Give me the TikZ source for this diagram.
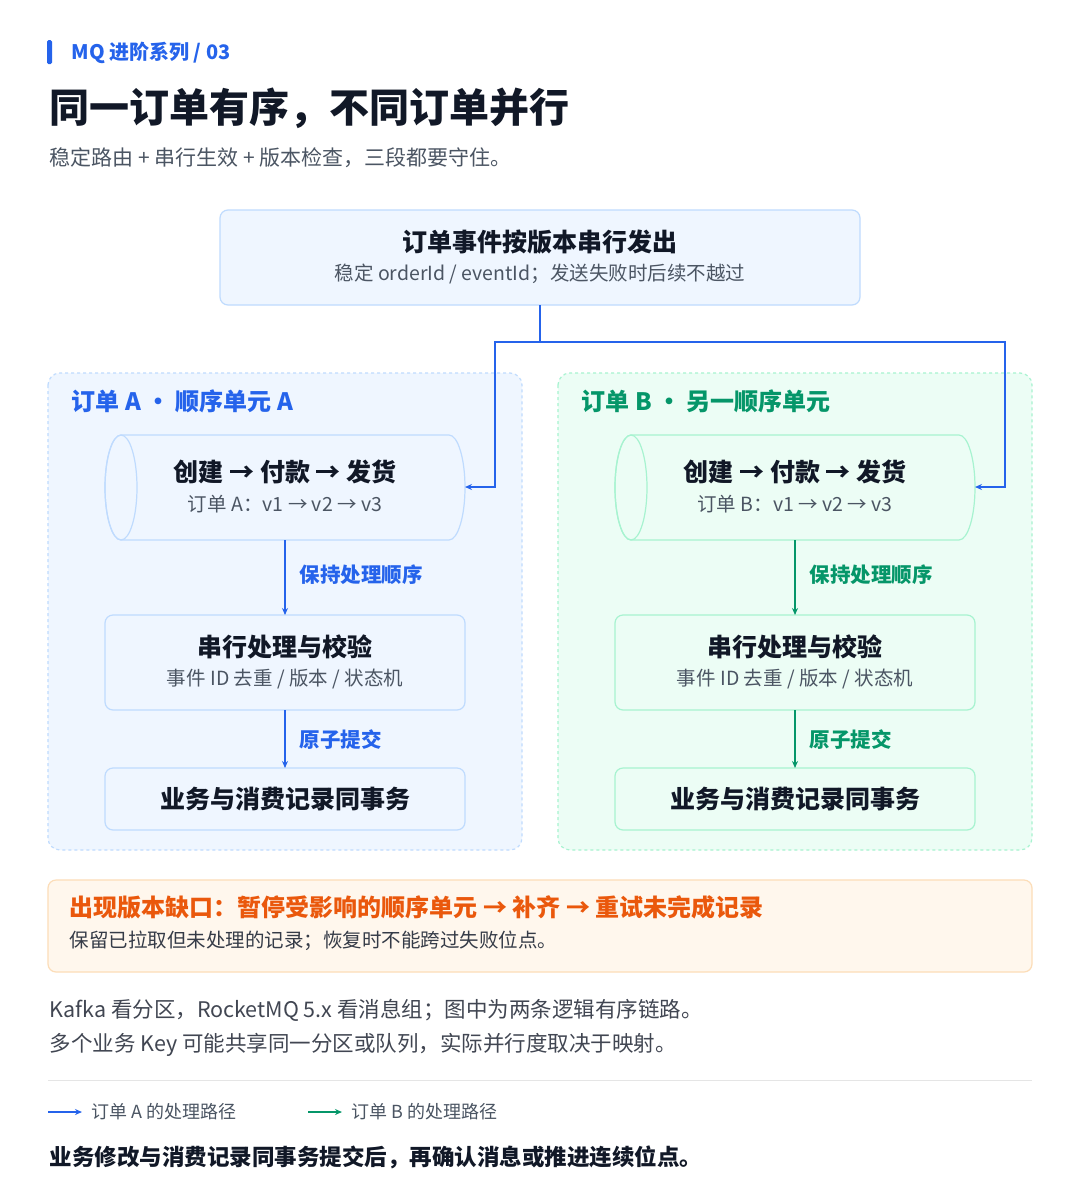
\documentclass[tikz,border=0pt]{standalone}
\usepackage{fontspec}
\setmainfont{Noto Sans CJK SC}
\usetikzlibrary{arrows.meta}
\definecolor{bl}{HTML}{2563EB}
\definecolor{gr}{HTML}{059669}
\definecolor{blbg}{HTML}{EFF6FF}
\definecolor{blbd}{HTML}{BFDBFE}
\definecolor{grbg}{HTML}{ECFDF5}
\definecolor{grbd}{HTML}{A7F3D0}
\definecolor{orf}{HTML}{FFF7ED}
\definecolor{orb}{HTML}{FCDDB8}
\definecolor{ort}{HTML}{EA580C}
\definecolor{tx}{HTML}{111827}
\definecolor{sub}{HTML}{4B5563}
\begin{document}
\begin{tikzpicture}[x=1pt,y=-1pt,
 box/.style={draw=#1,line width=1.2pt,rounded corners=8pt},
 arr/.style={draw=#1,line width=1.6pt,-{Stealth[length=7pt,width=6pt]}},
 ttl/.style={text=tx,font=\bfseries\fontsize{25}{25}\selectfont},
 st/.style={text=sub,font=\fontsize{19.5}{19.5}\selectfont},
]
\useasboundingbox (0,0) rectangle (1080,1200);
\fill[white] (0,0) rectangle (1080,1200);
% header
\fill[bl,rounded corners=1.5pt] (47,40) rectangle (52,64);
\node[anchor=west,text=bl,font=\bfseries\fontsize{20}{20}\selectfont] (ser) at (68,53) {MQ 进阶系列 / 03};
\node[anchor=west,text=tx,font=\bfseries\fontsize{40}{40}\selectfont] (title) at (46,108) {同一订单有序，不同订单并行};
\node[anchor=west,text=sub,font=\fontsize{21}{21}\selectfont] (subt) at (46,158) {稳定路由 + 串行生效 + 版本检查，三段都要守住。};
% top box
\draw[box=blbd,fill=blbg] (220,210) rectangle (860,305);
\node[ttl] (t1) at (540,242) {订单事件按版本串行发出};
\node[st] (t2) at (540,274) {稳定 orderId / eventId；发送失败时后续不越过};
\coordinate (top) at (540,305);
% panels
\draw[draw=blbd,fill=blbg,line width=1.2pt,dashed,rounded corners=12pt] (48,373) rectangle (522,850);
\draw[draw=grbd,fill=grbg,line width=1.2pt,dashed,rounded corners=12pt] (558,373) rectangle (1032,850);
\node[anchor=west,text=bl,font=\bfseries\fontsize{24}{24}\selectfont] (pa) at (68,401) {订单 A · 顺序单元 A};
\node[anchor=west,text=gr,font=\bfseries\fontsize{24}{24}\selectfont] (pb) at (578,401) {订单 B · 另一顺序单元};
% cylinders
\foreach \x/\c/\f/\n in {105/blbd/blbg/A,615/grbd/grbg/B}{
 \draw[draw=\c,fill=\f,line width=1.2pt] (\x+16,435) -- (\x+344,435) arc[start angle=-90,end angle=90,x radius=16,y radius=52.5] -- (\x+16,540) arc[start angle=90,end angle=270,x radius=16,y radius=52.5] -- cycle;
 \draw[draw=\c,line width=1.2pt] (\x+16,487.5) ellipse[x radius=16,y radius=52.5];
 \draw[box=\c,fill=\f] (\x,615) rectangle (\x+360,710);
 \draw[box=\c,fill=\f] (\x,768) rectangle (\x+360,830);
}
\node[ttl] (ca) at (285,472) {创建 → 付款 → 发货};
\node[st] (cas) at (285,504) {订单 A：v1 → v2 → v3};
\node[ttl] (cb) at (795,472) {创建 → 付款 → 发货};
\node[st] (cbs) at (795,504) {订单 B：v1 → v2 → v3};
\node[ttl] (sa) at (285,647) {串行处理与校验};
\node[st] (sas) at (285,679) {事件 ID 去重 / 版本 / 状态机};
\node[ttl] (sb) at (795,647) {串行处理与校验};
\node[st] (sbs) at (795,679) {事件 ID 去重 / 版本 / 状态机};
\node[ttl] (ba) at (285,799) {业务与消费记录同事务};
\node[ttl] (bb) at (795,799) {业务与消费记录同事务};
% arrows
\draw[arr=bl] (top) -- (540,342) -- (495,342) -- (495,487) -- (465,487);
\draw[arr=bl] (540,342) -- (1005,342) -- (1005,487) -- (975,487);
\draw[arr=bl] (285,540) -- (285,615);
\draw[arr=bl] (285,710) -- (285,768);
\draw[arr=gr] (795,540) -- (795,615);
\draw[arr=gr] (795,710) -- (795,768);
\node[anchor=west,text=bl,font=\bfseries\fontsize{20.5}{20.5}\selectfont] (la1) at (296,575) {保持处理顺序};
\node[anchor=west,text=bl,font=\bfseries\fontsize{20.5}{20.5}\selectfont] (la2) at (296,740) {原子提交};
\node[anchor=west,text=gr,font=\bfseries\fontsize{20.5}{20.5}\selectfont] (lb1) at (806,575) {保持处理顺序};
\node[anchor=west,text=gr,font=\bfseries\fontsize{20.5}{20.5}\selectfont] (lb2) at (806,740) {原子提交};
% orange box
\draw[box=orb,fill=orf] (48,880) rectangle (1032,972);
\node[anchor=west,text=ort,font=\bfseries\fontsize{24}{24}\selectfont] (o1) at (66,907) {出现版本缺口：暂停受影响的顺序单元 → 补齐 → 重试未完成记录};
\node[anchor=west,text=tx!85,font=\fontsize{19.5}{19.5}\selectfont] (o2) at (66,941) {保留已拉取但未处理的记录；恢复时不能跨过失败位点。};
% notes
\node[anchor=west,text=tx!80,font=\fontsize{21.5}{21.5}\selectfont] (n1) at (46,1010) {Kafka 看分区，RocketMQ 5.x 看消息组；图中为两条逻辑有序链路。};
\node[anchor=west,text=tx!80,font=\fontsize{21.5}{21.5}\selectfont] (n2) at (46,1045) {多个业务 Key 可能共享同一分区或队列，实际并行度取决于映射。};
\draw[draw=black!10,line width=1pt] (48,1080) -- (1032,1080);
\coordinate (l1a) at (48,1112); \coordinate (l1b) at (82,1112);
\coordinate (l2a) at (308,1112); \coordinate (l2b) at (342,1112);
\draw[arr=bl,line width=1.4pt] (l1a) -- (l1b);
\draw[arr=gr,line width=1.4pt] (l2a) -- (l2b);
\node[anchor=west,text=sub,font=\fontsize{18}{18}\selectfont] (lg1) at (88,1112) {订单 A 的处理路径};
\node[anchor=west,text=sub,font=\fontsize{18}{18}\selectfont] (lg2) at (348,1112) {订单 B 的处理路径};
\node[anchor=west,text=tx,font=\bfseries\fontsize{22.5}{22.5}\selectfont] (fin) at (46,1157) {业务修改与消费记录同事务提交后，再确认消息或推进连续位点。};
\end{tikzpicture}
\end{document}
